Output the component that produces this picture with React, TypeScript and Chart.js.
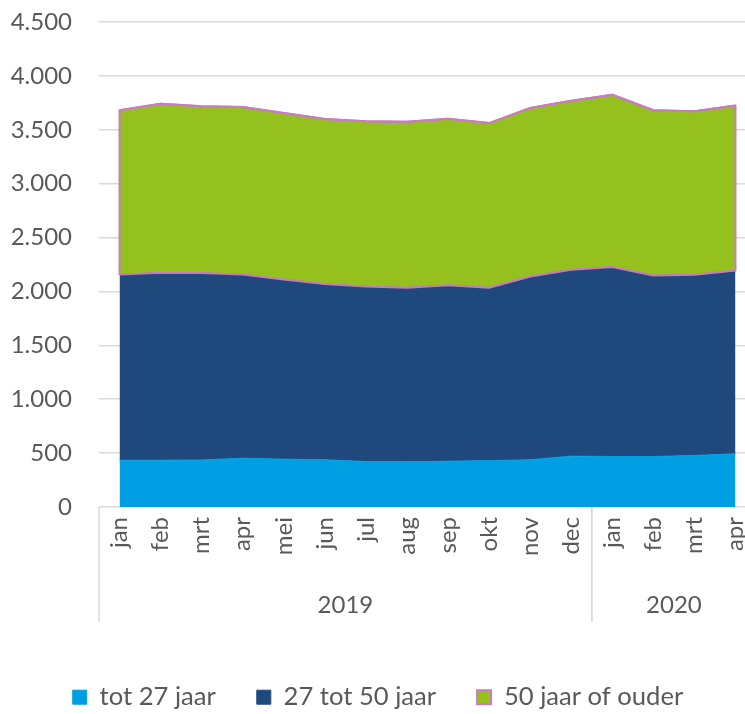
import React, { useEffect, useRef } from "react";
import { Chart, registerables } from "chart.js";

Chart.register(...registerables);

const months = ["jan", "feb", "mrt", "apr", "mei", "jun", "jul", "aug", "sep", "okt", "nov", "dec", "jan", "feb", "mrt", "apr"];
const years = ["2019", "2020"];
const yearSpans = [12, 4];

const tot27 = [434, 434, 436, 453, 444, 438, 422, 419, 425, 431, 438, 472, 469, 469, 478, 494];
const van27tot50 = [1723, 1739, 1734, 1704, 1666, 1631, 1625, 1616, 1632, 1604, 1700, 1729, 1757, 1679, 1676, 1701];
const vanaf50 = [1524, 1568, 1549, 1555, 1546, 1531, 1531, 1540, 1546, 1527, 1565, 1568, 1599, 1533, 1518, 1530];

const seriesNames = ["tot 27 jaar", "27 tot 50 jaar", "50 jaar of ouder"];
const yTicks = [0, 500, 1000, 1500, 2000, 2500, 3000, 3500, 4000, 4500];

const TEXT = "#595959";
const GRID = "#D9D9D9";
const LIGHT = "#009FE3";
const DARK = "#1F497D";
const GREEN = "#95C11F";
const PINK = "#C97BC2";
const FONT = "Lato, 'Open Sans', sans-serif";

const fmt = (v: number) => String(v).replace(/\B(?=(\d{3})+(?!\d))/g, ".");

const groupPlugin = {
  id: "yearGroups",
  afterDatasetsDraw(chart: any) {
    const ctx = chart.ctx;
    const lower = chart.getDatasetMeta(1).data;
    const upper = chart.getDatasetMeta(2).data;
    ctx.save();
    ctx.strokeStyle = PINK;
    ctx.lineWidth = 2;
    ctx.lineJoin = "round";
    ctx.beginPath();
    upper.forEach((p: any, i: number) => (i ? ctx.lineTo(p.x, p.y) : ctx.moveTo(p.x, p.y)));
    for (let i = lower.length - 1; i >= 0; i--) ctx.lineTo(lower[i].x, lower[i].y);
    ctx.closePath();
    ctx.stroke();
    ctx.restore();
  },
  afterDraw(chart: any) {
    const ctx = chart.ctx;
    const xs = chart.scales.x;
    const top = chart.chartArea.bottom;
    const bottom = top + 115;
    const half = (xs.getPixelForValue(1) - xs.getPixelForValue(0)) / 2;
    ctx.save();
    ctx.strokeStyle = GRID;
    ctx.lineWidth = 1.5;
    ctx.fillStyle = TEXT;
    ctx.font = `24px ${FONT}`;
    ctx.textAlign = "center";
    ctx.textBaseline = "middle";
    let idx = 0;
    years.forEach((y, g) => {
      const left = xs.getPixelForValue(idx) - half;
      const right = xs.getPixelForValue(idx + yearSpans[g] - 1) + half;
      ctx.beginPath();
      ctx.moveTo(left, top);
      ctx.lineTo(left, bottom);
      ctx.stroke();
      ctx.beginPath();
      ctx.moveTo(right, top);
      ctx.lineTo(right, bottom);
      ctx.stroke();
      ctx.fillText(y, (left + right) / 2, top + 98);
      idx += yearSpans[g];
    });
    ctx.restore();
  },
};

export default function App() {
  const ref = useRef<HTMLCanvasElement>(null);
  useEffect(() => {
    if (!ref.current) return;
    Chart.defaults.font.family = FONT;
    const chart = new Chart(ref.current, {
      type: "line",
      data: {
        labels: months,
        datasets: [
          {
            label: seriesNames[0],
            data: tot27,
            backgroundColor: LIGHT,
            borderColor: LIGHT,
            borderWidth: 1,
            fill: "origin",
            pointRadius: 0,
            tension: 0,
          },
          {
            label: seriesNames[1],
            data: van27tot50,
            backgroundColor: DARK,
            borderColor: DARK,
            borderWidth: 1,
            fill: "-1",
            pointRadius: 0,
            tension: 0,
          },
          {
            label: seriesNames[2],
            data: vanaf50,
            backgroundColor: GREEN,
            borderColor: PINK,
            borderWidth: 2,
            fill: "-1",
            pointRadius: 0,
            tension: 0,
          },
        ],
      },
      options: {
        responsive: false,
        animation: false,
        devicePixelRatio: 1,
        layout: { padding: { top: 22, left: 0, right: 0, bottom: 0 } },
        plugins: {
          tooltip: { enabled: false },
          legend: {
            position: "bottom",
            labels: {
              color: TEXT,
              font: { size: 25.6, family: FONT },
              boxWidth: 14,
              boxHeight: 14,
              padding: 41,
            },
          },
        },
        scales: {
          x: {
            type: "category",
            offset: true,
            grid: { display: false, drawTicks: false },
            border: { display: false },
            ticks: {
              color: TEXT,
              font: { size: 24, family: FONT },
              minRotation: 90,
              maxRotation: 90,
              autoSkip: false,
              padding: 10,
            },
            afterFit(scale: any) {
              scale.height = 136.4;
              scale.paddingLeft = 0;
              scale.paddingRight = 0;
            },
          },
          y: {
            stacked: true,
            min: 0,
            max: 4500,
            afterBuildTicks(scale: any) {
              scale.ticks = yTicks.map((v) => ({ value: v }));
            },
            grid: { color: GRID, lineWidth: 1.5, drawTicks: false },
            border: { display: false },
            ticks: {
              color: TEXT,
              font: { size: 24, family: FONT },
              padding: 27,
              callback: (v: any) => fmt(Number(v)),
            },
            afterFit(scale: any) {
              scale.width = 99;
              scale.paddingTop = 0;
              scale.paddingBottom = 0;
            },
          },
        },
      },
      plugins: [groupPlugin],
    });
    return () => chart.destroy();
  }, []);

  return (
    <div
      style={{
        position: "fixed",
        left: 0,
        top: 0,
        width: 745,
        height: 714,
        overflow: "hidden",
        background: "#fff",
      }}
    >
      <canvas ref={ref} width={756} height={720} style={{ display: "block" }} />
    </div>
  );
}
